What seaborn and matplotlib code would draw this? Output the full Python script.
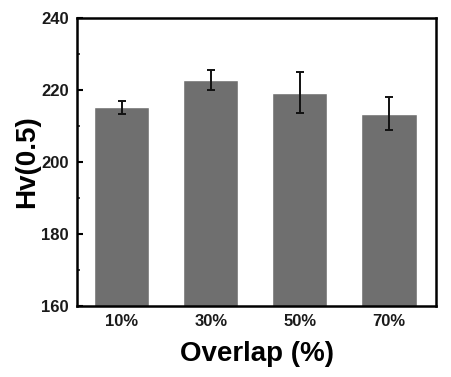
import numpy as np
import pandas as pd
import matplotlib
matplotlib.use("Agg")
import matplotlib.pyplot as plt
import seaborn as sns
from matplotlib.ticker import MultipleLocator

# Data
overlap = ["10%", "30%", "50%", "70%"]
hv = [215.2, 222.9, 219.3, 213.5]
hv_err = [1.7, 2.8, 5.7, 4.6]

df = pd.DataFrame({"Overlap": overlap, "Hv": hv})

sns.set_style("ticks")
plt.rcParams["font.family"] = ["Liberation Sans", "DejaVu Sans"]

fig = plt.figure(figsize=(4.51, 3.77), dpi=100)
ax = fig.add_axes([0.171, 0.188, 0.796, 0.764])

sns.barplot(data=df, x="Overlap", y="Hv", color="#6f6f6f", saturation=1,
            width=0.62, errorbar=None, ax=ax)
ax.errorbar(np.arange(len(overlap)), hv, yerr=hv_err, fmt="none",
            ecolor="#111111", elinewidth=1.4, capsize=3, capthick=1.4)

ax.set_ylim(160, 240)
ax.set_xlim(-0.5, 3.53)
ax.yaxis.set_major_locator(MultipleLocator(20))
ax.yaxis.set_minor_locator(MultipleLocator(10))

for s in ax.spines.values():
    s.set_visible(True)
    s.set_linewidth(1.8)
    s.set_color("black")

ax.tick_params(axis="both", which="major", direction="in", length=4, width=1.5,
               labelsize=12, pad=6, colors="black")
ax.tick_params(axis="y", which="minor", direction="in", length=2.5, width=1.2)
ax.tick_params(axis="x", which="minor", bottom=False)
for lab in ax.get_xticklabels() + ax.get_yticklabels():
    lab.set_fontweight("bold")
    lab.set_color("#1a1a1a")

ax.set_xlabel("Overlap (%)", fontsize=20, fontweight="bold", labelpad=8, color="black")
ax.set_ylabel("Hv(0.5)", fontsize=20, fontweight="bold", labelpad=1, color="black")

fig.savefig("out.png", dpi=100)
